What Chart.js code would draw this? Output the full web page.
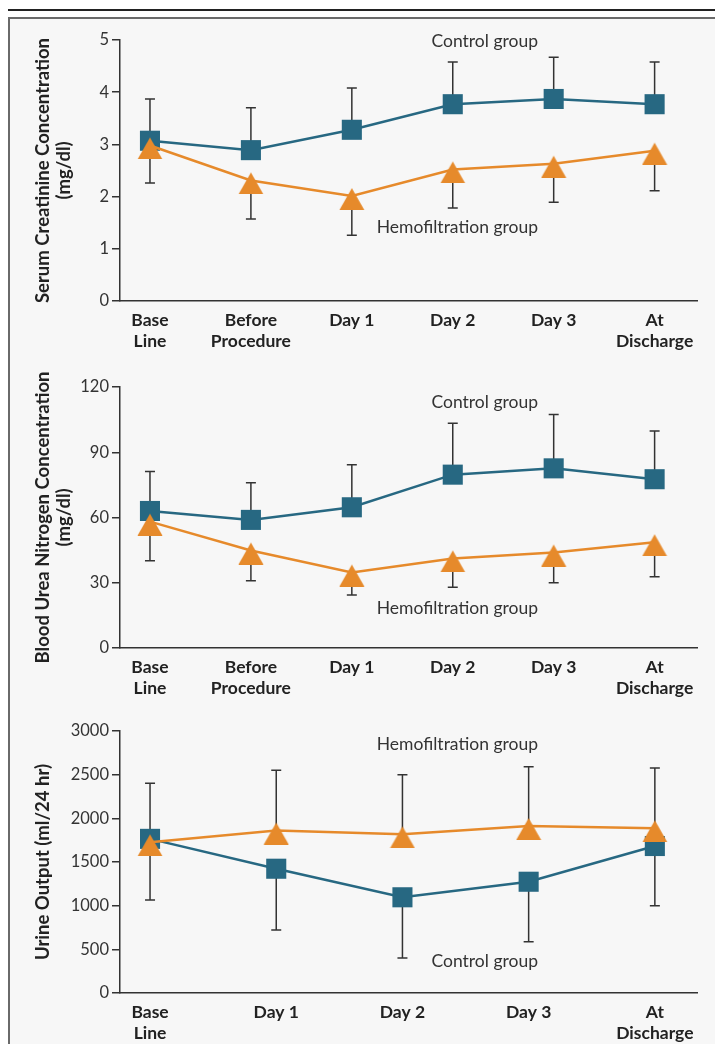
<!DOCTYPE html>
<html>
<head>
<meta charset="utf-8">
<script src="https://cdn.jsdelivr.net/npm/chart.js@4.4.1/dist/chart.umd.min.js"></script>
<style>
  html, body { margin: 0; padding: 0; background: #fff; }
  body { width: 715px; height: 1044px; position: relative; overflow: hidden; font-family: Lato, sans-serif; }
  .rule { position: absolute; left: 8px; right: 0; top: 9px; height: 2px; background: #222; }
  .panel { position: absolute; left: 8px; top: 17px; width: 730px; height: 1060px; background: #f7f7f7;
           border-left: 2px solid #6a6a6a; border-top: 2px solid #6a6a6a; }
  canvas { position: absolute; left: 0; }
</style>
</head>
<body>
<div class="rule"></div>
<div class="panel"></div>
<canvas id="creatinine-chart" width="715" height="340" style="top:20px"></canvas>
<canvas id="bun-chart" width="715" height="340" style="top:368px"></canvas>
<canvas id="urine-chart" width="715" height="334" style="top:710px"></canvas>
<script>
// categories
const procedureDays = [['Base', 'Line'], ['Before', 'Procedure'], 'Day 1', 'Day 2', 'Day 3', ['At', 'Discharge']];
const urineDays = [['Base', 'Line'], 'Day 1', 'Day 2', 'Day 3', ['At', 'Discharge']];

// serum creatinine (mg/dl)
const creatControl = [3.07, 2.89, 3.28, 3.77, 3.87, 3.77];
const creatControlSD = [3.87, 3.70, 4.08, 4.58, 4.67, 4.58];   // top of error bar
const creatHemo = [2.98, 2.31, 2.01, 2.52, 2.63, 2.88];
const creatHemoSD = [2.26, 1.57, 1.26, 1.78, 1.89, 2.11];      // bottom of error bar

// blood urea nitrogen (mg/dl)
const bunControl = [63.0, 58.9, 64.7, 79.7, 82.6, 77.6];
const bunControlSD = [81.1, 76.0, 84.3, 103.3, 107.3, 99.8];
const bunHemo = [58.1, 44.8, 34.7, 41.2, 43.9, 48.6];
const bunHemoSD = [40.1, 30.9, 24.4, 27.9, 30.0, 32.8];

// urine output (ml/24 hr)
const urineControl = [1765, 1423, 1096, 1274, 1683];
const urineControlSD = [1065, 721, 401, 587, 1000];
const urineHemo = [1725, 1860, 1817, 1912, 1886];
const urineHemoSD = [2401, 2550, 2500, 2591, 2576];

const TEAL = '#276882';
const ORANGE = '#e68a2b';
const INK = '#333';

// triangle marker drawn on a small canvas so the line meets it near the top
function makeTriangle(color) {
    const c = document.createElement('canvas');
    c.width = 26;
    c.height = 28;
    const g = c.getContext('2d');
    g.fillStyle = color;
    g.beginPath();
    g.moveTo(13, 6);
    g.lineTo(25.5, 28);
    g.lineTo(0.5, 28);
    g.closePath();
    g.fill();
    return c;
}
const triangle = makeTriangle(ORANGE);

// draws the one-sided error bars behind the markers
const errorBars = {
    id: 'errorBars',
    beforeDatasetsDraw(chart) {
        const ctx = chart.ctx;
        const xs = chart.scales.x;
        const ys = chart.scales.y;
        ctx.save();
        ctx.strokeStyle = INK;
        ctx.lineWidth = 1.5;
        chart.data.datasets.forEach(ds => {
            ds.errorEnd.forEach((v, i) => {
                const px = xs.getPixelForValue(i);
                const y0 = ys.getPixelForValue(ds.data[i].y);
                const y1 = ys.getPixelForValue(v);
                ctx.beginPath();
                ctx.moveTo(px, y0);
                ctx.lineTo(px, y1);
                ctx.moveTo(px - 5, y1);
                ctx.lineTo(px + 5, y1);
                ctx.stroke();
            });
        });
        ctx.restore();
    }
};

// "Control group" / "Hemofiltration group" labels
const groupLabels = {
    id: 'groupLabels',
    afterDraw(chart, args, opts) {
        const ctx = chart.ctx;
        ctx.save();
        ctx.font = '17.5px Lato';
        ctx.fillStyle = INK;
        ctx.textAlign = 'right';
        ctx.textBaseline = 'alphabetic';
        opts.items.forEach(t => ctx.fillText(t.text, t.x, t.y));
        ctx.restore();
    }
};

function toPoints(values) {
    return values.map((v, i) => ({x: i, y: v}));
}

function createPanel(id, cfg) {
    const ctx = document.getElementById(id).getContext('2d');
    return new Chart(ctx, {
        type: 'line',
        data: {
            datasets: [
                {
                    label: 'Hemofiltration group',
                    data: toPoints(cfg.hemo),
                    errorEnd: cfg.hemoSD,
                    borderColor: ORANGE,
                    backgroundColor: ORANGE,
                    borderWidth: 2.5,
                    pointStyle: triangle,
                    pointRadius: 13,
                    tension: 0
                },
                {
                    label: 'Control group',
                    data: toPoints(cfg.control),
                    errorEnd: cfg.controlSD,
                    borderColor: TEAL,
                    backgroundColor: TEAL,
                    borderWidth: 2.5,
                    pointStyle: 'rect',
                    pointRadius: 14.2,
                    pointBorderWidth: 0,
                    tension: 0
                }
            ]
        },
        options: {
            responsive: false,
            animation: false,
            events: [],
            layout: {
                padding: {left: 0, right: 18, top: cfg.padTop, bottom: 0}
            },
            plugins: {
                legend: {display: false},
                tooltip: {enabled: false},
                groupLabels: {items: cfg.notes}
            },
            scales: {
                x: {
                    type: 'linear',
                    min: cfg.xMin,
                    max: cfg.xMax,
                    afterBuildTicks: s => { s.ticks = cfg.cats.map((c, i) => ({value: i})); },
                    afterFit: s => { s.height = cfg.xHeight; },
                    grid: {display: false, drawTicks: false},
                    border: {display: true, color: INK, width: 1.5},
                    ticks: {
                        callback: v => cfg.cats[v],
                        autoSkip: false,
                        maxRotation: 0,
                        padding: 8,
                        color: '#222',
                        font: {family: 'Lato', size: 17.5, weight: 'bold', lineHeight: 1.25}
                    }
                },
                y: {
                    min: 0,
                    max: cfg.yMax,
                    afterFit: s => { s.width = 120; },
                    grid: {drawOnChartArea: false, drawTicks: true, tickLength: 8, color: INK, lineWidth: 1.5},
                    border: {color: INK, width: 1.5},
                    ticks: {
                        stepSize: cfg.yStep,
                        padding: 3,
                        color: INK,
                        callback: v => String(v),
                        font: {family: 'Lato', size: 16.5}
                    },
                    title: {
                        display: true,
                        text: cfg.yTitle,
                        color: '#222',
                        padding: {top: 32, bottom: 0},
                        font: {family: 'Lato', size: 18.5, weight: 'bold', lineHeight: 1.17}
                    }
                }
            }
        },
        plugins: [errorBars, groupLabels]
    });
}

createPanel('creatinine-chart', {
    cats: procedureDays,
    control: creatControl, controlSD: creatControlSD,
    hemo: creatHemo, hemoSD: creatHemoSD,
    yMax: 5, yStep: 1,
    yTitle: ['Serum Creatinine Concentration', '(mg/dl)'],
    xMin: -0.297, xMax: 5.42,
    padTop: 20, xHeight: 59,
    notes: [
        {text: 'Control group', x: 538, y: 27},
        {text: 'Hemofiltration group', x: 538, y: 213}
    ]
});

createPanel('bun-chart', {
    cats: procedureDays,
    control: bunControl, controlSD: bunControlSD,
    hemo: bunHemo, hemoSD: bunHemoSD,
    yMax: 120, yStep: 30,
    yTitle: ['Blood Urea Nitrogen Concentration', '(mg/dl)'],
    xMin: -0.297, xMax: 5.42,
    padTop: 19, xHeight: 60,
    notes: [
        {text: 'Control group', x: 538, y: 40},
        {text: 'Hemofiltration group', x: 538, y: 246}
    ]
});

createPanel('urine-chart', {
    cats: urineDays,
    control: urineControl, controlSD: urineControlSD,
    hemo: urineHemo, hemoSD: urineHemoSD,
    yMax: 3000, yStep: 500,
    yTitle: 'Urine Output (ml/24 hr)',
    xMin: -0.238, xMax: 4.334,
    padTop: 21, xHeight: 51,
    notes: [
        {text: 'Hemofiltration group', x: 538, y: 40},
        {text: 'Control group', x: 538, y: 257}
    ]
});
</script>
</body>
</html>
